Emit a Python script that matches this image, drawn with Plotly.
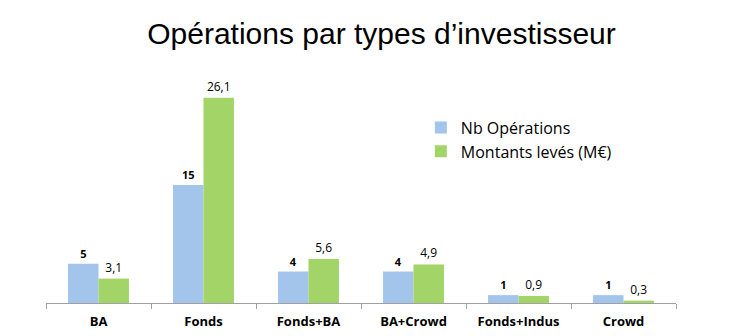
import plotly.graph_objects as go

categories = ["BA", "Fonds", "Fonds+BA", "BA+Crowd", "Fonds+Indus", "Crowd"]
nb_operations = [5, 15, 4, 4, 1, 1]
montants = [3.1, 26.1, 5.6, 4.9, 0.9, 0.3]

blue = "#a3c4eb"
green = "#a2d467"

fig = go.Figure()
fig.add_trace(go.Bar(
    x=categories, y=nb_operations, name="Nb Opérations",
    marker=dict(color=blue, line=dict(width=0)),
    texttemplate="<b>%{y}</b>", textposition="outside",
    textfont=dict(family="Open Sans", size=11, color="black"),
    cliponaxis=False,
))
fig.add_trace(go.Bar(
    x=categories, y=montants, name="Montants levés (M€)",
    marker=dict(color=green, line=dict(width=0)),
    texttemplate="%{y:.1f}", textposition="outside",
    textfont=dict(family="Open Sans", size=12, color="black"),
    cliponaxis=False,
))

fig.update_layout(
    width=749, height=336,
    margin=dict(l=46, r=73, t=67, b=33),
    paper_bgcolor="white", plot_bgcolor="white",
    separators=",.",
    barmode="group", bargap=0.42, bargroupgap=0,
    title=dict(text="Opérations par types d’investisseur",
               x=0.5325, xref="paper", xanchor="center", y=0.9, yanchor="middle",
               font=dict(family="Liberation Sans", size=30, color="black")),
    legend=dict(x=0.595, y=0.815, xanchor="left", yanchor="top",
                font=dict(family="Open Sans", size=16, color="black"),
                bgcolor="rgba(0,0,0,0)", itemwidth=30, tracegroupgap=0),
    showlegend=True,
)
fig.update_xaxes(
    type="category", showline=True, linecolor="#a0a0a0", linewidth=1,
    ticks="outside", tickson="boundaries", ticklen=5, tickcolor="#a0a0a0",
    ticklabelstandoff=6, automargin=False,
    tickfont=dict(family="Open Sans", size=13, color="black", weight="bold"),
    showgrid=False,
)
fig.update_yaxes(range=[0, 30], visible=False, showgrid=False, automargin=False)

fig.write_html("out.html")
